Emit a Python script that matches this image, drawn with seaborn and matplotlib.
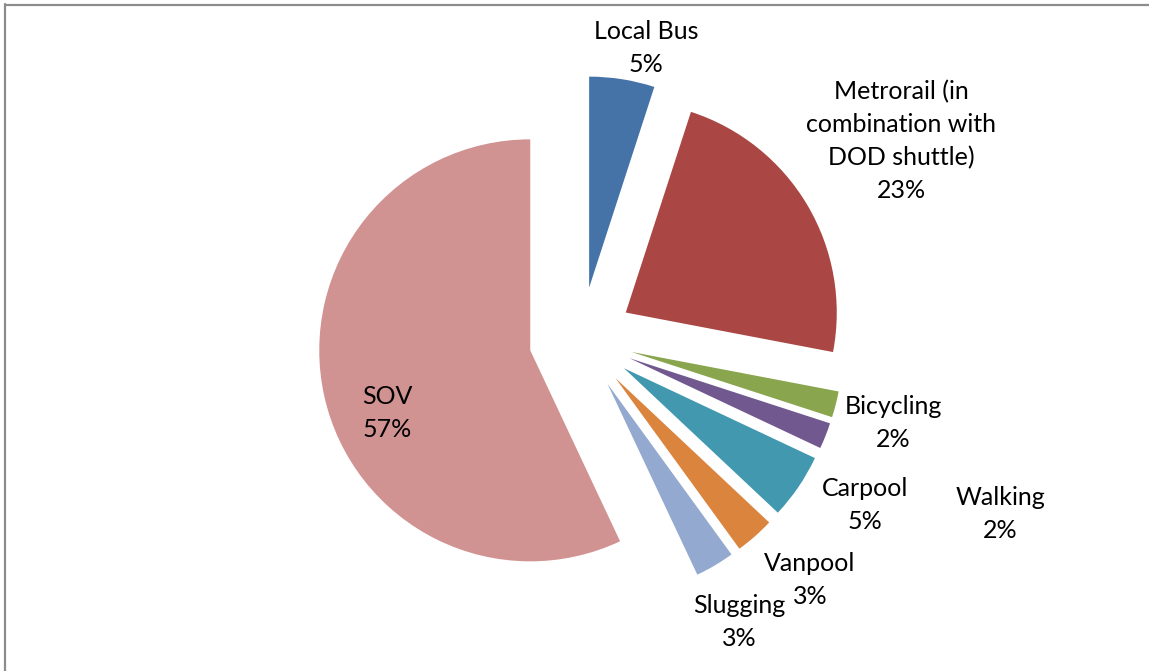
import matplotlib
matplotlib.use("Agg")
import matplotlib.pyplot as plt
import seaborn as sns
from matplotlib.lines import Line2D

# ---- data ----
categories = ["Local Bus", "Metrorail (in\ncombination with\nDOD shuttle)", "Bicycling",
              "Walking", "Carpool", "Vanpool", "Slugging", "SOV"]
shares = [5, 23, 2, 2, 5, 3, 3, 57]
pct_labels = ["5%", "23%", "2%", "2%", "5%", "3%", "3%", "57%"]
colors = ["#4572A7", "#AA4643", "#89A54E", "#71588F", "#4198AF", "#DB843D", "#93A9CF", "#D19392"]

# ---- layout (pixel coordinates, y measured from top) ----
W, H = 1149, 671
center_px = (581, 339)
radius_px = 211
explode_px = [52] * 8
label_pos = [(646, 48), (901, 141), (893, 423), (1000, 514), (865, 505), (810, 580), (739, 622), (387, 413)]

sns.set_theme(style="white")
plt.rcParams['font.family'] = ['Lato', 'DejaVu Sans']

fig = plt.figure(figsize=(W / 100, H / 100), dpi=100)
ax = fig.add_axes([0, 0, 1, 1])

ax.pie(shares, colors=colors, startangle=90, counterclock=False,
       center=(center_px[0], H - center_px[1]), radius=radius_px,
       explode=explode_px, wedgeprops=dict(linewidth=0), frame=False)
ax.set_xlim(0, W)
ax.set_ylim(0, H)
ax.set_aspect("equal")
ax.axis("off")

for cat, pct, (x, y) in zip(categories, pct_labels, label_pos):
    ax.text(x, H - y, f"{cat}\n{pct}", ha="center", va="center", fontsize=18,
            color="black", linespacing=1.5)

# chart border (grey frame)
fig.add_artist(Line2D([5 / W, 5 / W], [0, 1 - 4 / H], transform=fig.transFigure, color="#8c8c8c", lw=1.6))
fig.add_artist(Line2D([5 / W, 1], [1 - 4.5 / H, 1 - 4.5 / H], transform=fig.transFigure, color="#8c8c8c", lw=1.6))

fig.savefig("out.png", dpi=100)
